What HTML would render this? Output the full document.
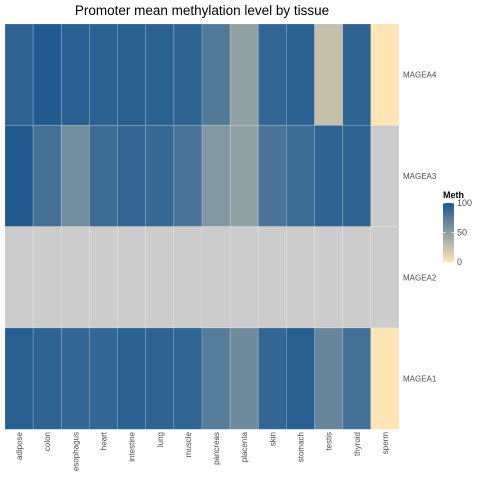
<!DOCTYPE html>
<html><head><meta charset="utf-8"><style>
body{margin:0;background:#fff;}
svg text{font-family:"Liberation Sans",sans-serif;}
</style></head><body>
<svg id="c" width="480" height="480" xmlns="http://www.w3.org/2000/svg">
<text x="202" y="15" text-anchor="middle" font-size="13.5" fill="#000">Promoter mean methylation level by tissue</text>
</svg>
<script>
const tissues=["adipose","colon","esophagus","heart","intestine","lung","muscle","pancreas","placenta","skin","stomach","testis","thyroid","sperm"];
const genes=["MAGEA4","MAGEA3","MAGEA2","MAGEA1"];
const magea4=[92,98,94,93,94,93,92,76,48,90,93,26,92,0];
const magea3=[98,82,62,86,90,88,80,55,48,80,86,92,92,null];
const magea2=[null,null,null,null,null,null,null,null,null,null,null,null,null,null];
const magea1=[95,92,90,90,93,92,91,74,64,90,95,67,83,0];
const legendTicks=[0,50,100];
const rows=[magea4,magea3,magea2,magea1];

const svg=document.getElementById('c');
const NS="http://www.w3.org/2000/svg";
const X0=5,X1=399,Y0=24,Y1=429.3;
const cw=(X1-X0)/tissues.length, rh=(Y1-Y0)/genes.length;
function xs(i){return X0+i*cw;}
function ys(j){return Y0+j*rh;}
const lo=[255,228,181],hi=[28,88,143];
function col(v){if(v===null)return"#CCCCCC";const t=v/100;const c=lo.map((l,k)=>Math.round(l+(hi[k]-l)*t));return `rgb(${c[0]},${c[1]},${c[2]})`;}
function mk(tag,attrs){const e=document.createElementNS(NS,tag);for(const k in attrs)e.setAttribute(k,attrs[k]);svg.appendChild(e);return e;}

rows.forEach((row,j)=>{row.forEach((v,i)=>{
 const r=mk('rect',{x:xs(i),y:ys(j),width:cw,height:rh,fill:col(v),stroke:"rgba(255,255,255,0.22)","stroke-width":0.8});
 
 
});
 const t=mk('text',{x:403,y:ys(j)+rh/2+3,"font-size":8,fill:"#4d4d4d"});t.textContent=genes[j];
 
 
});
tissues.forEach((n,i)=>{
 const cx=xs(i)+cw/2+3;
 const t=mk('text',{x:0,y:0,"font-size":8,fill:"#4d4d4d","text-anchor":"end",transform:`translate(${cx},432) rotate(-90)`});t.textContent=n;
 
 
});
const LX=443,LW=11,LT=203,LB=262;
const defs=mk('defs',{});
const grad=document.createElementNS(NS,'linearGradient');grad.setAttribute('id','g');grad.setAttribute('x1','0');grad.setAttribute('y1','1');grad.setAttribute('x2','0');grad.setAttribute('y2','0');
for(let k=0;k<=10;k++){const s=document.createElementNS(NS,'stop');s.setAttribute('offset',k/10);s.setAttribute('stop-color',col(k*10));grad.appendChild(s);}
defs.appendChild(grad);
const lt=mk('text',{x:443,y:198,"font-size":9,"font-weight":"bold",fill:"#000"});lt.textContent="Meth";


const lb=mk('rect',{x:LX,y:LT,width:LW,height:LB-LT,fill:"url(#g)"});


legendTicks.forEach(v=>{
 const y=LB-(v/100)*(LB-LT);
 mk('line',{x1:LX,x2:LX+2.5,y1:y,y2:y,stroke:"#fff","stroke-width":0.8});
 mk('line',{x1:LX+LW-2.5,x2:LX+LW,y1:y,y2:y,stroke:"#fff","stroke-width":0.8});
 const t=mk('text',{x:457,y:y+3,"font-size":9,fill:"#4d4d4d"});t.textContent=v;
 
 
});
</script>
</body></html>
